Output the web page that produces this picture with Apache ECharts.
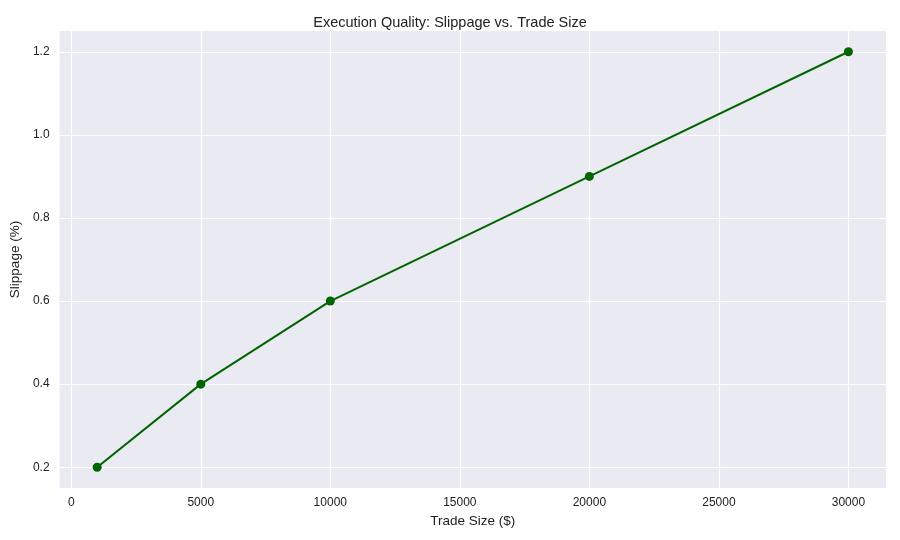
<!DOCTYPE html>
<html lang="en">
<head>
<meta charset="UTF-8">
<title>Execution Quality</title>
<script src="https://cdn.jsdelivr.net/npm/echarts@6/dist/echarts.min.js"></script>
</head>
<body style="margin:0;background:#fff">
<div id="demo" style="width:900px;height:540px;"></div>
<script>
var tradeSize = [1000, 5000, 10000, 20000, 30000];
var slippage = [0.2, 0.4, 0.6, 0.9, 1.2];
var xTicks = [0, 5000, 10000, 15000, 20000, 25000, 30000];
var yTicks = [0.2, 0.4, 0.6, 0.8, 1.0, 1.2];

var myChart = echarts.init(document.getElementById('demo'));
var font = 'Liberation Sans';
var gridLines = xTicks.map(function (v) { return {xAxis: v}; })
    .concat(yTicks.map(function (v) { return {yAxis: v}; }));

myChart.setOption({
    backgroundColor: '#fff',
    animation: false,
    title: {
        text: 'Execution Quality: Slippage vs. Trade Size',
        left: 'center', top: 10,
        textStyle: {fontFamily: font, fontSize: 14.5, fontWeight: 'normal', color: '#222'}
    },
    grid: {left: 58, right: 14, top: 31, bottom: 52, show: true, backgroundColor: '#EAEAF2', borderWidth: 0},
    xAxis: {
        type: 'value', min: -450, max: 31450,
        name: 'Trade Size ($)', nameLocation: 'middle', nameGap: 26,
        nameTextStyle: {fontFamily: font, fontSize: 13.5, color: '#222'},
        axisLine: {show: false}, axisTick: {show: false}, splitLine: {show: false},
        axisLabel: {customValues: xTicks, fontFamily: font, fontSize: 12, color: '#222', margin: 9,
            formatter: function (v) { return String(v); }}
    },
    yAxis: {
        type: 'value', min: 0.15, max: 1.25,
        name: 'Slippage (%)', nameLocation: 'middle', nameGap: 34, nameRotate: 90,
        nameTextStyle: {fontFamily: font, fontSize: 13.5, color: '#222'},
        axisLine: {show: false}, axisTick: {show: false}, splitLine: {show: false},
        axisLabel: {customValues: yTicks, fontFamily: font, fontSize: 12, color: '#222', margin: 10,
            formatter: function (v) { return v.toFixed(1); }}
    },
    series: [{
        type: 'line',
        data: tradeSize.map(function (x, i) { return [x, slippage[i]]; }),
        lineStyle: {color: '#006400', width: 2},
        itemStyle: {color: '#006400'},
        symbol: 'circle', symbolSize: 9,
        z: 5,
        markLine: {
            silent: true, symbol: 'none', label: {show: false},
            lineStyle: {color: '#fff', type: 'solid', width: 1.2},
            data: gridLines, z: 1
        }
    }]
});
</script>
</body>
</html>
